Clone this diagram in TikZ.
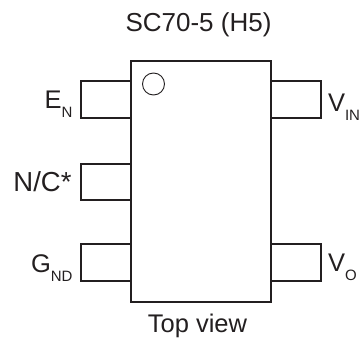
\documentclass[tikz,border=0pt]{standalone}
\usepackage{fontspec}
\setmainfont{Liberation Sans}
\definecolor{ink}{HTML}{231F20}
\newcommand{\pinsub}[2]{#1\raisebox{-9pt}{\fontsize{15}{15}\selectfont #2}}
\tikzset{
  outline/.style={draw=ink,line width=2pt,minimum width=0pt,minimum height=0pt,inner sep=0pt,outer sep=0pt,anchor=north west},
  lbl/.style={text=ink,inner sep=0pt,outer sep=0pt,font=\fontsize{25.5}{26}\selectfont},
  caption/.style={text=ink,inner sep=0pt,outer sep=0pt,font=\fontsize{26}{27}\selectfont}
}
\begin{document}
\begin{tikzpicture}[x=1pt,y=-1pt]
\useasboundingbox (0,0) rectangle (363,342);
\node[outline,minimum width=50pt,minimum height=36.5pt] (en) at (81,81.5) {};
\node[outline,minimum width=50pt,minimum height=36.5pt] (nc) at (81,163.5) {};
\node[outline,minimum width=50pt,minimum height=36.5pt] (gnd) at (81,244) {};
\node[outline,minimum width=50pt,minimum height=36.5pt] (vin) at (271,81.5) {};
\node[outline,minimum width=50pt,minimum height=36.5pt] (vo) at (271,244) {};
\node[outline,fill=white,minimum width=140pt,minimum height=240pt] (body) at (131,61.5) {};
\node[draw=ink,line width=0.9pt,circle,minimum size=22pt,inner sep=0pt] (dot) at (153.5,84) {};
\node[caption,anchor=base] (title) at (198.5,32) {SC70-5 (H5)};
\node[caption,anchor=base,font=\fontsize{25.5}{26}\selectfont] (view) at (197.5,332.5) {Top view};
\node[lbl,anchor=base east] (enl) at (72.5,108.5) {\pinsub{E}{N}};
\node[lbl,anchor=base east,font=\fontsize{27.5}{28}\selectfont] (ncl) at (71.5,191.5) {N/C*};
\node[lbl,anchor=base east] (gndl) at (72.5,272) {\pinsub{G}{ND}};
\node[lbl,anchor=base west] (vinl) at (328,111) {\pinsub{V}{IN}};
\node[lbl,anchor=base west] (vol) at (328,271) {\pinsub{V}{O}};
\end{tikzpicture}
\end{document}
